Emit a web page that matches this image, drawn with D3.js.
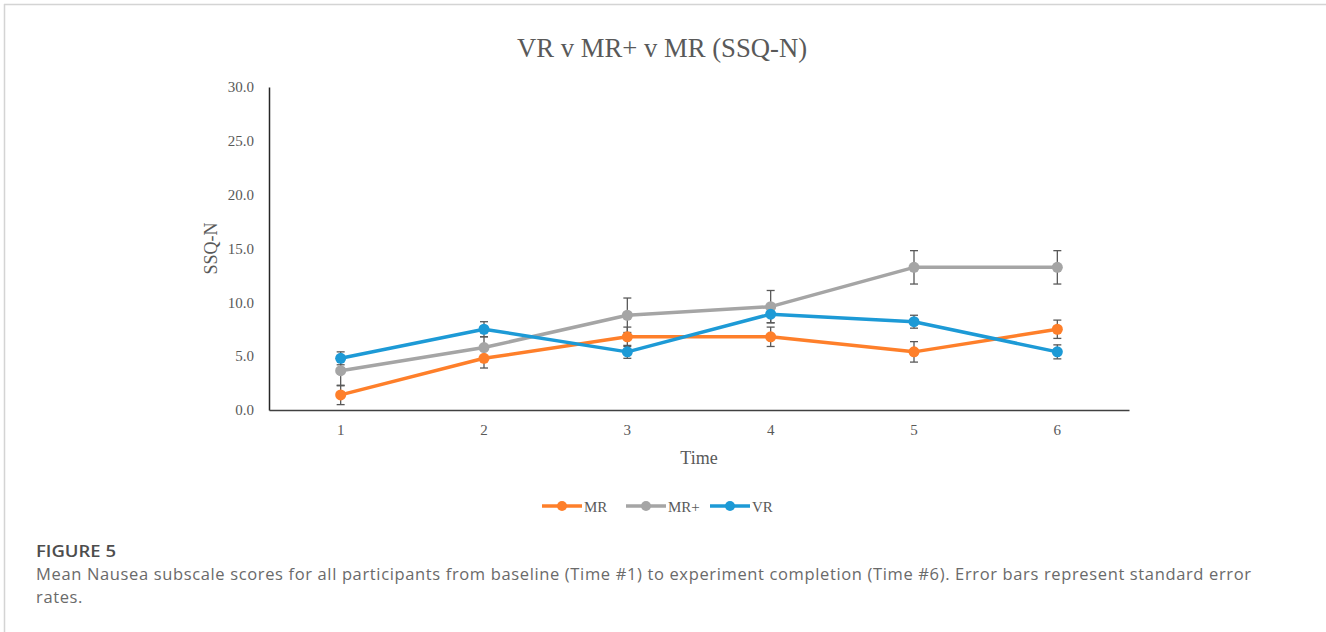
<!DOCTYPE html>
<html>
<head>
<meta charset="utf-8">
<script src="https://cdn.jsdelivr.net/npm/d3@7/dist/d3.min.js"></script>
<style>
  html, body { margin: 0; padding: 0; background: #fff; }
  svg { display: block; }
</style>
</head>
<body>
<svg id="chart" width="1326" height="632"></svg>
<script>
// ---- data ----
const categories = ["1", "2", "3", "4", "5", "6"];
const seriesNames = ["MR", "MR+", "VR"];
const mrValues   = [1.4, 4.8, 6.8, 6.8, 5.4, 7.5];
const mrPlusValues = [3.65, 5.8, 8.8, 9.6, 13.25, 13.25];
const vrValues   = [4.8, 7.5, 5.4, 8.9, 8.2, 5.4];
const mrErrors   = [0.9, 0.9, 0.9, 0.9, 0.95, 0.85];
const mrPlusErrors = [1.4, 1.0, 1.6, 1.5, 1.55, 1.55];
const vrErrors   = [0.6, 0.7, 0.6, 0.8, 0.6, 0.65];
const yTicks = [0, 5, 10, 15, 20, 25, 30];
const titleText = "VR v MR+ v MR (SSQ-N)";
const xTitle = "Time";
const yTitle = "SSQ-N";
const figLabel = "FIGURE 5";
const captionLines = [
  "Mean Nausea subscale scores for all participants from baseline (Time #1) to experiment completion (Time #6). Error bars represent standard error",
  "rates."
];

const colors = { "MR": "#FE7F2A", "MR+": "#A5A5A5", "VR": "#1D9AD6" };
const series = [
  { name: "MR", values: mrValues, errors: mrErrors },
  { name: "MR+", values: mrPlusValues, errors: mrPlusErrors },
  { name: "VR", values: vrValues, errors: vrErrors }
];

const svg = d3.select("#chart");
const serif = "'Liberation Serif', 'Times New Roman', serif";
const sans = "'Open Sans', 'Noto Sans', sans-serif";

// frame lines
svg.append("line").attr("x1", 4).attr("x2", 1326).attr("y1", 4.5).attr("y2", 4.5)
  .attr("stroke", "#d4d4d4").attr("stroke-width", 1.5);
svg.append("line").attr("x1", 4.5).attr("x2", 4.5).attr("y1", 4).attr("y2", 632)
  .attr("stroke", "#d4d4d4").attr("stroke-width", 1.5);

const plotL = 269, plotR = 1129, plotT = 87, plotB = 410;
const x = d3.scaleBand().domain(categories).range([plotL, plotR]);
const y = d3.scaleLinear().domain([0, 30]).range([plotB, plotT]);
const cx = c => x(c) + x.bandwidth() / 2;

// title
svg.append("text").attr("x", 662).attr("y", 57).attr("text-anchor", "middle")
  .attr("font-family", serif).attr("font-size", 26.7).attr("fill", "#595959").text(titleText);

// y axis
const yAxis = d3.axisLeft(y).tickValues(yTicks).tickFormat(d3.format(".1f")).tickSize(0).tickPadding(15);
const gy = svg.append("g").attr("transform", `translate(${plotL},0)`).call(yAxis);
gy.select(".domain").attr("stroke", "#262626").attr("stroke-width", 1.5);
gy.selectAll("text").attr("font-family", serif).attr("font-size", 15).attr("fill", "#595959");

// x axis
const xAxis = d3.axisBottom(x).tickSize(0).tickPadding(14);
const gx = svg.append("g").attr("transform", `translate(0,${plotB})`).call(xAxis);
gx.select(".domain").attr("stroke", "#404040").attr("stroke-width", 1.5);
gx.selectAll("text").attr("font-family", serif).attr("font-size", 15).attr("fill", "#595959");

// axis titles
svg.append("text").attr("x", 699).attr("y", 464).attr("text-anchor", "middle")
  .attr("font-family", serif).attr("font-size", 18).attr("fill", "#595959").text(xTitle);
svg.append("text").attr("transform", `translate(217,${(plotT + plotB) / 2}) rotate(-90)`)
  .attr("text-anchor", "middle").attr("font-family", serif).attr("font-size", 18)
  .attr("fill", "#595959").text(yTitle);

// lines
const line = d3.line().x((d, i) => cx(categories[i])).y(d => y(d));
series.forEach(s => {
  svg.append("path").datum(s.values).attr("d", line).attr("fill", "none")
    .attr("stroke", colors[s.name]).attr("stroke-width", 3.5).attr("stroke-linejoin", "round");
});

// error bars
series.forEach(s => {
  const g = svg.append("g");
  s.values.forEach((v, i) => {
    const px = cx(categories[i]);
    const y1 = y(v + s.errors[i]), y2 = y(v - s.errors[i]);
    g.append("line").attr("x1", px).attr("x2", px).attr("y1", y1).attr("y2", y2)
      .attr("stroke", "#595959").attr("stroke-width", 1.3);
    [y1, y2].forEach(yy => g.append("line").attr("x1", px - 4).attr("x2", px + 4)
      .attr("y1", yy).attr("y2", yy).attr("stroke", "#595959").attr("stroke-width", 1.3));
  });
});

// markers
series.forEach(s => {
  svg.append("g").selectAll("circle").data(s.values).join("circle")
    .attr("cx", (d, i) => cx(categories[i])).attr("cy", d => y(d)).attr("r", 5.5)
    .attr("fill", colors[s.name]);
});

// legend
const legendItems = [
  { name: "MR", x: 542 },
  { name: "MR+", x: 626 },
  { name: "VR", x: 710 }
];
legendItems.forEach(it => {
  const g = svg.append("g").attr("transform", `translate(${it.x},506)`);
  g.append("line").attr("x1", 0).attr("x2", 40).attr("stroke", colors[it.name]).attr("stroke-width", 3.5);
  g.append("circle").attr("cx", 20).attr("cy", 0).attr("r", 5).attr("fill", colors[it.name]);
  g.append("text").attr("x", 42).attr("y", 5.5).attr("font-family", serif).attr("font-size", 15)
    .attr("fill", "#595959").text(it.name);
});

// caption
const capX = 36;
svg.append("text").attr("x", capX).attr("y", 557).attr("font-family", sans).attr("font-size", 17)
  .attr("font-weight", 600).attr("fill", "#4d4d4d")
  .attr("textLength", 80).attr("lengthAdjust", "spacingAndGlyphs").text(figLabel);
const capTexts = captionLines.map((t, i) =>
  svg.append("text").attr("x", capX).attr("y", 580 + i * 23).attr("font-family", sans)
    .attr("font-size", 16.5).attr("fill", "#6a6a6a").text(t));
// match the reference's wider caption face with letter spacing
const w0 = capTexts[0].node().getComputedTextLength();
const ls = (1215 - w0) / (captionLines[0].length - 1);
capTexts.forEach(t => t.attr("letter-spacing", ls));
</script>
</body>
</html>
